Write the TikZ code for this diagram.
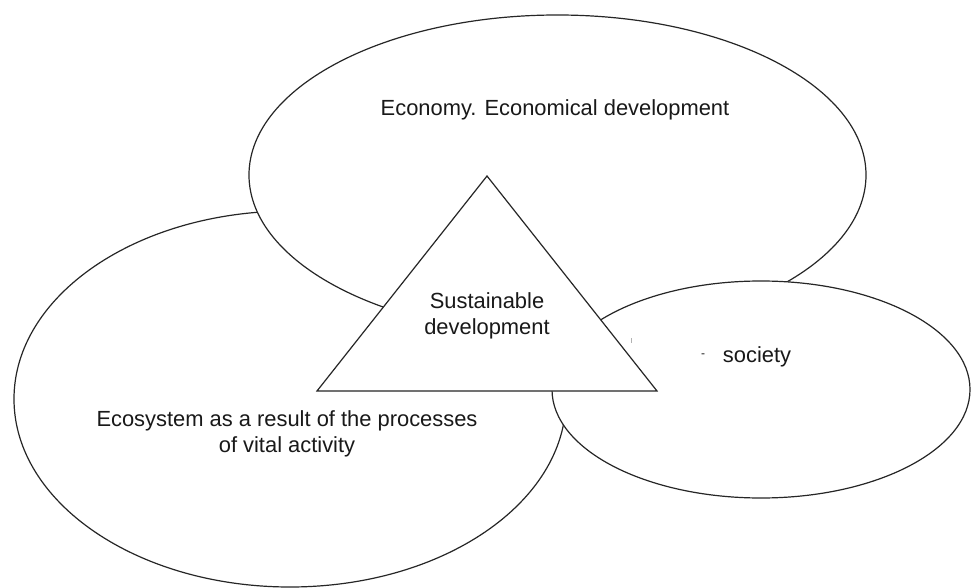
\documentclass[tikz,border=0pt]{standalone}
\usepackage{fontspec}
\setmainfont{Liberation Sans}
\usetikzlibrary{shapes.geometric}
\tikzset{
  blob/.style={ellipse, draw=black!85, line width=1.2bp, fill=white, inner sep=0pt},
  lbl/.style={font=\fontsize{21.9bp}{26bp}\selectfont, text=black!90, align=center, inner sep=0pt},
  tri/.style={draw=black!85, line width=1.2bp, fill=white, line join=miter}
}
\begin{document}
\begin{tikzpicture}[x=1bp, y=-1bp]
\useasboundingbox (0,0) rectangle (971,588);
% ellipses, back to front
\node[blob, minimum width=552bp, minimum height=376bp] (eco) at (290,399) {};
\node[blob, minimum width=617bp, minimum height=320bp] (econ) at (557.5,175) {};
\node[blob, minimum width=418bp, minimum height=217bp] (soc) at (761,389.5) {};
% triangle
\coordinate (ta) at (487,176);
\coordinate (tl) at (317,391);
\coordinate (tr) at (657,391);
\draw[tri] (ta) -- (tl) -- (tr) -- cycle;
% texts
\node[lbl] (tecon) at (555,110) {Economy. Economical development};
\node[lbl] (tsd) at (487,316) {Sustainable\\development};
\node[lbl] (tsoc) at (757,357) {society};
\node[lbl, font=\fontsize{12bp}{14bp}\selectfont] (dash) at (703,356) {-};
\node[lbl] (teco) at (287,434) {Ecosystem as a result of the processes\\of vital activity};
\coordinate (tk1) at (631.5,338);
\coordinate (tk2) at (631.5,342.5);
\draw[black!30, line width=0.8bp] (tk1) -- (tk2);
\end{tikzpicture}
\end{document}
